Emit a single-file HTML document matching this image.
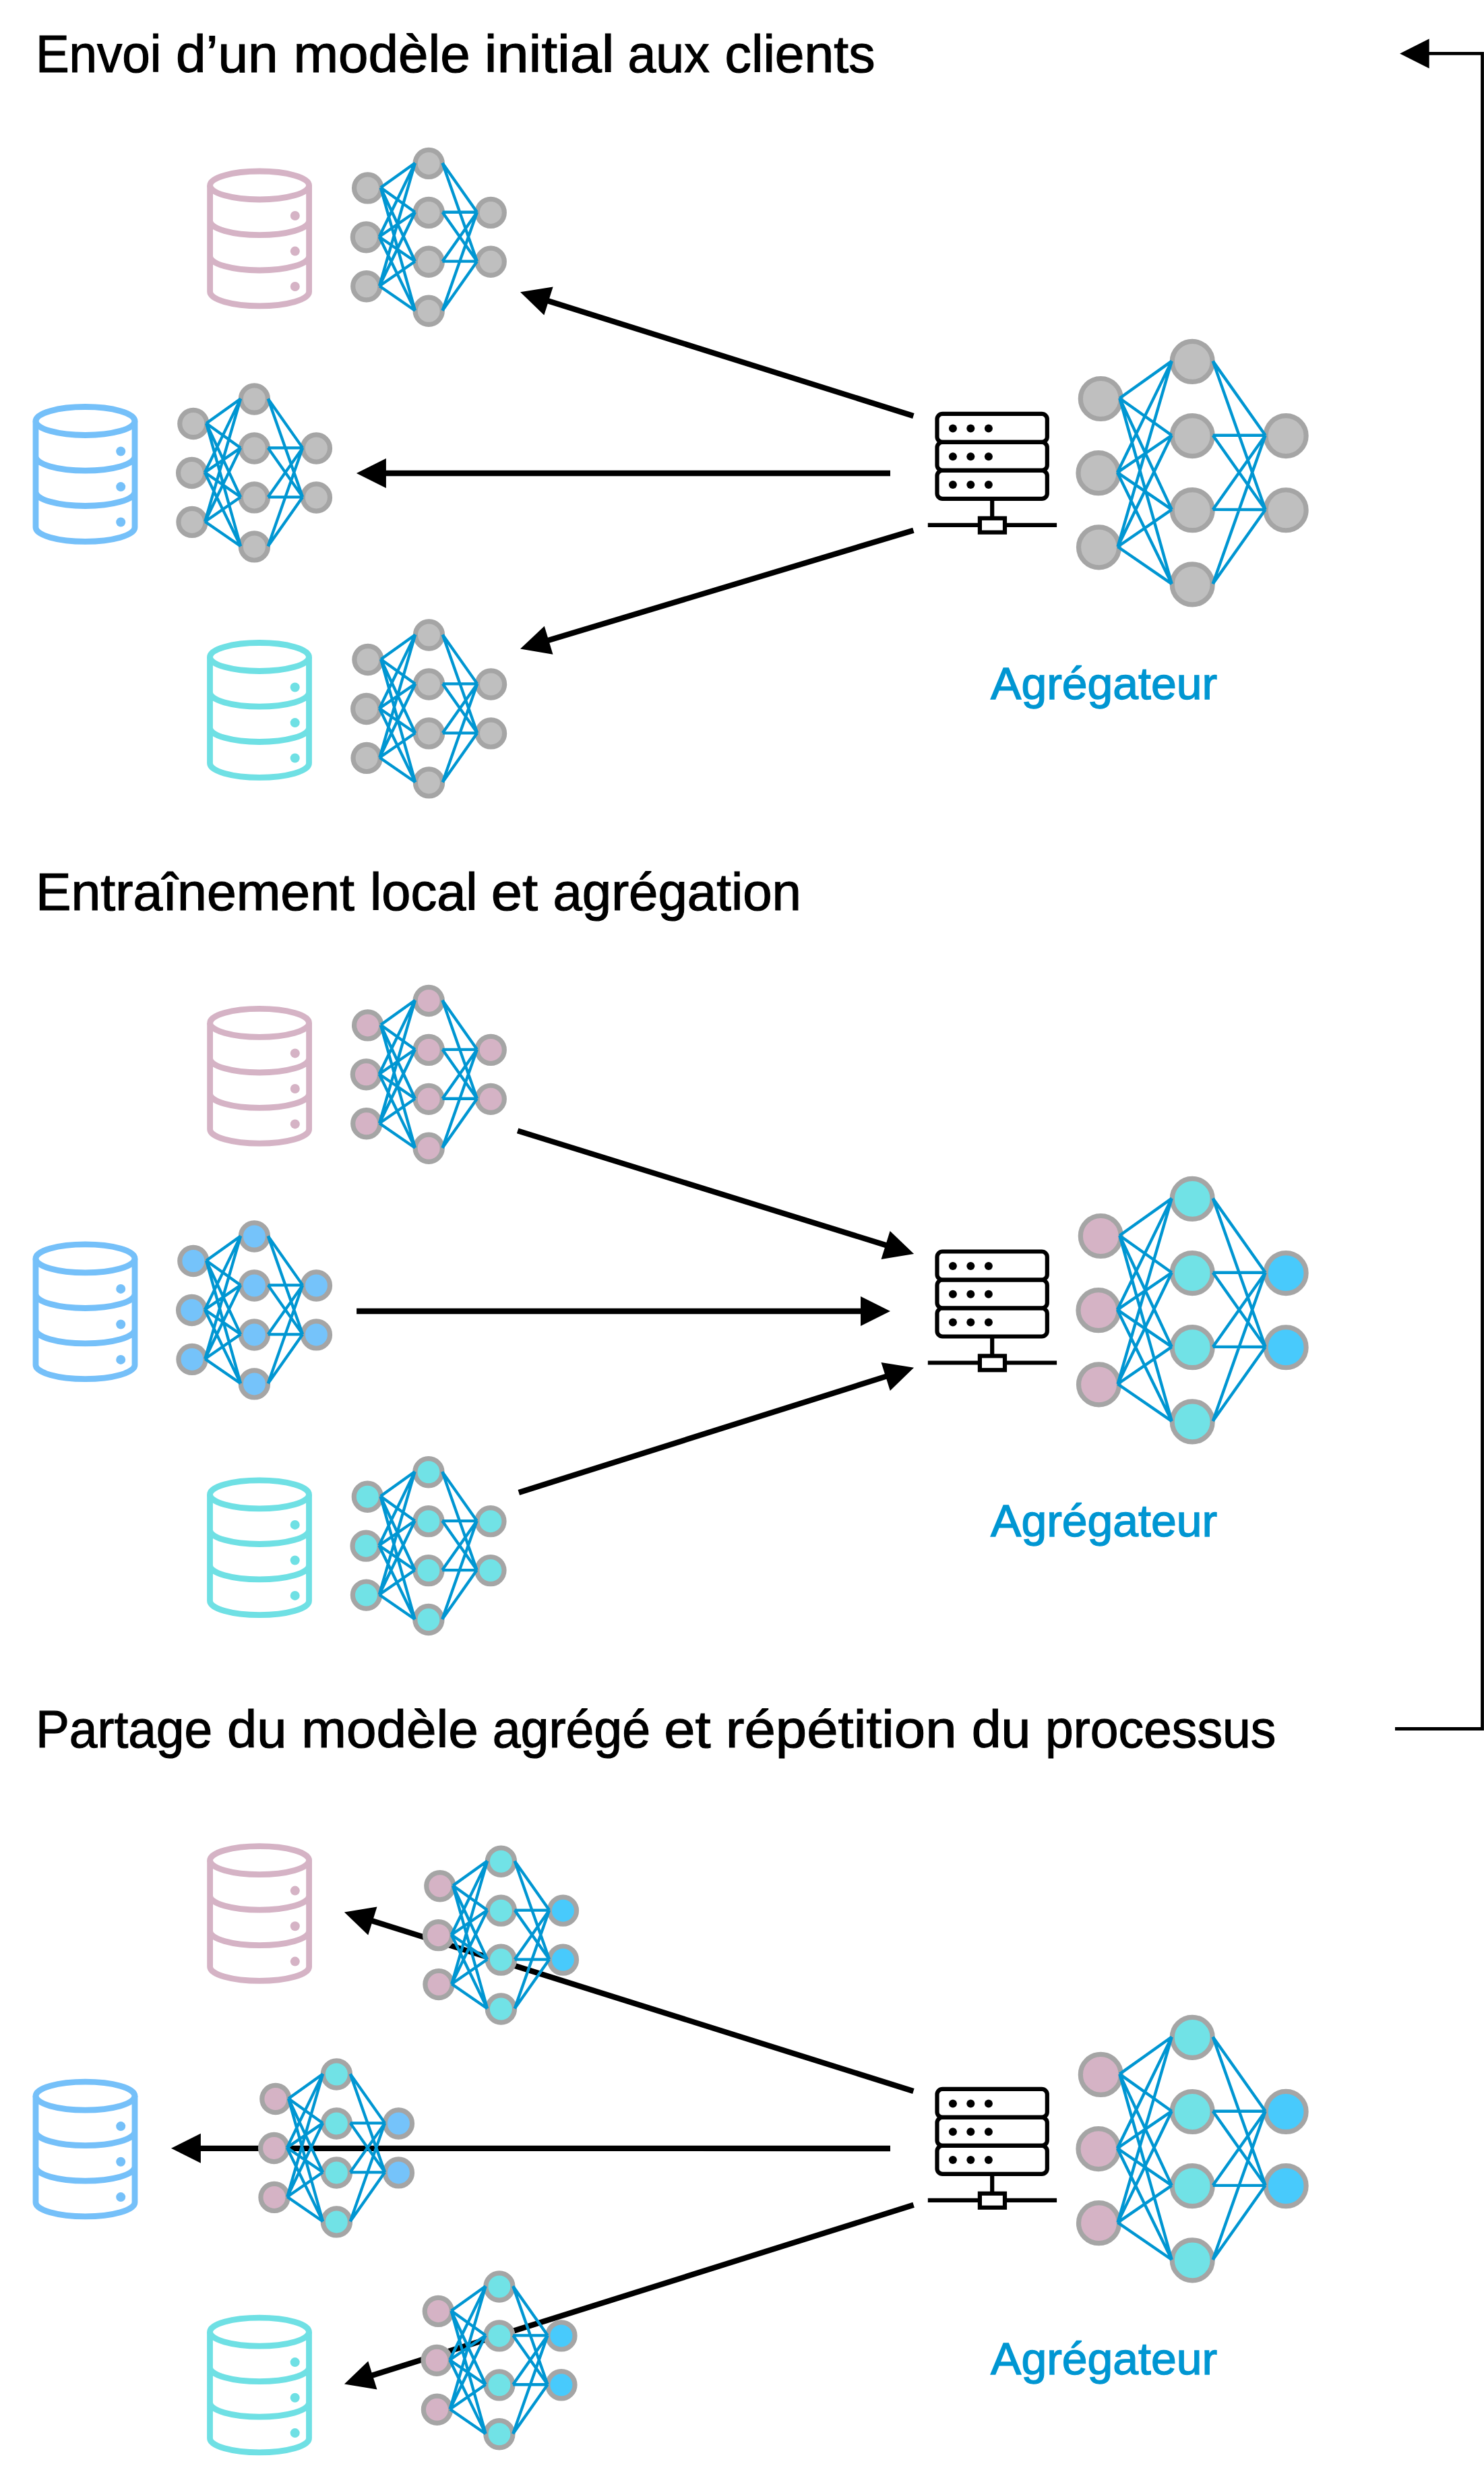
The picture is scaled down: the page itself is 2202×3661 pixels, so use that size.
<!DOCTYPE html><html><head><meta charset="utf-8"><style>html,body{margin:0;padding:0;background:#fff;}svg{display:block;}text{font-family:"Liberation Sans",sans-serif;}</style></head><body>
<svg width="2202" height="3661" viewBox="0 0 2202 3661">
<rect width="2202" height="3661" fill="#fff"/>
<text x="52.9" y="106.8" font-size="78.5" textLength="186.5" lengthAdjust="spacingAndGlyphs" fill="#000" stroke="#000" stroke-width="1.2">Envoi</text>
<text x="261.1" y="106.8" font-size="78.5" textLength="151.5" lengthAdjust="spacingAndGlyphs" fill="#000" stroke="#000" stroke-width="1.2">d’un</text>
<text x="435.4" y="106.8" font-size="78.5" textLength="262.3" lengthAdjust="spacingAndGlyphs" fill="#000" stroke="#000" stroke-width="1.2">modèle</text>
<text x="718.7" y="106.8" font-size="78.5" textLength="192.9" lengthAdjust="spacingAndGlyphs" fill="#000" stroke="#000" stroke-width="1.2">initial</text>
<text x="931.5" y="106.8" font-size="78.5" textLength="121.3" lengthAdjust="spacingAndGlyphs" fill="#000" stroke="#000" stroke-width="1.2">aux</text>
<text x="1075.6" y="106.8" font-size="78.5" textLength="222.9" lengthAdjust="spacingAndGlyphs" fill="#000" stroke="#000" stroke-width="1.2">clients</text>
<text x="52.9" y="1350" font-size="78.5" textLength="473" lengthAdjust="spacingAndGlyphs" fill="#000" stroke="#000" stroke-width="1.2">Entraînement</text>
<text x="549" y="1350" font-size="78.5" textLength="159.6" lengthAdjust="spacingAndGlyphs" fill="#000" stroke="#000" stroke-width="1.2">local</text>
<text x="728.7" y="1350" font-size="78.5" textLength="69.3" lengthAdjust="spacingAndGlyphs" fill="#000" stroke="#000" stroke-width="1.2">et</text>
<text x="820.4" y="1350" font-size="78.5" textLength="368.6" lengthAdjust="spacingAndGlyphs" fill="#000" stroke="#000" stroke-width="1.2">agrégation</text>
<text x="52.9" y="2592.2" font-size="78.5" textLength="262.2" lengthAdjust="spacingAndGlyphs" fill="#000" stroke="#000" stroke-width="1.2">Partage</text>
<text x="337" y="2592.2" font-size="78.5" textLength="88.4" lengthAdjust="spacingAndGlyphs" fill="#000" stroke="#000" stroke-width="1.2">du</text>
<text x="447.3" y="2592.2" font-size="78.5" textLength="262.5" lengthAdjust="spacingAndGlyphs" fill="#000" stroke="#000" stroke-width="1.2">modèle</text>
<text x="730.7" y="2592.2" font-size="78.5" textLength="234.3" lengthAdjust="spacingAndGlyphs" fill="#000" stroke="#000" stroke-width="1.2">agrégé</text>
<text x="985.3" y="2592.2" font-size="78.5" textLength="69.3" lengthAdjust="spacingAndGlyphs" fill="#000" stroke="#000" stroke-width="1.2">et</text>
<text x="1076.7" y="2592.2" font-size="78.5" textLength="342.9" lengthAdjust="spacingAndGlyphs" fill="#000" stroke="#000" stroke-width="1.2">répétition</text>
<text x="1441.7" y="2592.2" font-size="78.5" textLength="87.7" lengthAdjust="spacingAndGlyphs" fill="#000" stroke="#000" stroke-width="1.2">du</text>
<text x="1551.1" y="2592.2" font-size="78.5" textLength="342.1" lengthAdjust="spacingAndGlyphs" fill="#000" stroke="#000" stroke-width="1.2">processus</text>
<text x="1470.1" y="1036.6" font-size="67.5" textLength="336" lengthAdjust="spacingAndGlyphs" fill="#0096d2" stroke="#0096d2" stroke-width="1.4">Agrégateur</text>
<text x="1470.1" y="2279.1" font-size="67.5" textLength="336" lengthAdjust="spacingAndGlyphs" fill="#0096d2" stroke="#0096d2" stroke-width="1.4">Agrégateur</text>
<text x="1470.1" y="3521.6" font-size="67.5" textLength="336" lengthAdjust="spacingAndGlyphs" fill="#0096d2" stroke="#0096d2" stroke-width="1.4">Agrégateur</text>
<path d="M2070 2564.5H2199.5V79.4H2118" fill="none" stroke="#000" stroke-width="4.8"/>
<path d="M2077.1 79.4L2120.7 57.4L2120.7 101.4Z" fill="#000"/>
<g fill="none" stroke="#000" stroke-width="6.2"><rect x="1390.5" y="613.9" width="163.3" height="42" rx="8"/><rect x="1390.5" y="655.9" width="163.3" height="42" rx="8"/><rect x="1390.5" y="697.9" width="163.3" height="42" rx="8"/><path d="M1472.2 739.9V768.8"/><path d="M1376.8 778.9H1568.1"/><rect x="1453.9" y="768.8" width="37.1" height="20.9" fill="#fff"/></g><g fill="#000"><circle cx="1413.9" cy="635.4" r="6"/><circle cx="1440.3" cy="635.4" r="6"/><circle cx="1466.9" cy="635.4" r="6"/><circle cx="1413.9" cy="677.15" r="6"/><circle cx="1440.3" cy="677.15" r="6"/><circle cx="1466.9" cy="677.15" r="6"/><circle cx="1413.9" cy="718.9" r="6"/><circle cx="1440.3" cy="718.9" r="6"/><circle cx="1466.9" cy="718.9" r="6"/></g>
<g fill="none" stroke="#d5b3c5" stroke-width="8.8"><ellipse cx="385.1" cy="275" rx="73.5" ry="21"/><path d="M311.6 275V432.8M458.6 275V432.8M311.6 327.6A73.5 21 0 0 0 458.6 327.6M311.6 380A73.5 21 0 0 0 458.6 380M311.6 432.8A73.5 21 0 0 0 458.6 432.8"/></g><g fill="#d5b3c5"><circle cx="437.8" cy="320" r="7"/><circle cx="437.8" cy="372.6" r="7"/><circle cx="437.8" cy="425" r="7"/></g>
<g fill="none" stroke="#75c0f9" stroke-width="8.8"><ellipse cx="126.5" cy="624.5" rx="73.5" ry="21"/><path d="M53 624.5V782.3M200 624.5V782.3M53 677.1A73.5 21 0 0 0 200 677.1M53 729.5A73.5 21 0 0 0 200 729.5M53 782.3A73.5 21 0 0 0 200 782.3"/></g><g fill="#75c0f9"><circle cx="179.2" cy="669.5" r="7"/><circle cx="179.2" cy="722.1" r="7"/><circle cx="179.2" cy="774.5" r="7"/></g>
<g fill="none" stroke="#6fe0e4" stroke-width="8.8"><ellipse cx="385" cy="974.5" rx="73.5" ry="21"/><path d="M311.5 974.5V1132.3M458.5 974.5V1132.3M311.5 1027.1A73.5 21 0 0 0 458.5 1027.1M311.5 1079.5A73.5 21 0 0 0 458.5 1079.5M311.5 1132.3A73.5 21 0 0 0 458.5 1132.3"/></g><g fill="#6fe0e4"><circle cx="437.7" cy="1019.5" r="7"/><circle cx="437.7" cy="1072.1" r="7"/><circle cx="437.7" cy="1124.5" r="7"/></g>
<g fill="none" stroke="#000" stroke-width="6.2"><rect x="1390.5" y="1856.5" width="163.3" height="42" rx="8"/><rect x="1390.5" y="1898.5" width="163.3" height="42" rx="8"/><rect x="1390.5" y="1940.5" width="163.3" height="42" rx="8"/><path d="M1472.2 1982.5V2011.4"/><path d="M1376.8 2021.5H1568.1"/><rect x="1453.9" y="2011.4" width="37.1" height="20.9" fill="#fff"/></g><g fill="#000"><circle cx="1413.9" cy="1878" r="6"/><circle cx="1440.3" cy="1878" r="6"/><circle cx="1466.9" cy="1878" r="6"/><circle cx="1413.9" cy="1919.75" r="6"/><circle cx="1440.3" cy="1919.75" r="6"/><circle cx="1466.9" cy="1919.75" r="6"/><circle cx="1413.9" cy="1961.5" r="6"/><circle cx="1440.3" cy="1961.5" r="6"/><circle cx="1466.9" cy="1961.5" r="6"/></g>
<g fill="none" stroke="#d5b3c5" stroke-width="8.8"><ellipse cx="385.1" cy="1517.4" rx="73.5" ry="21"/><path d="M311.6 1517.4V1675.2M458.6 1517.4V1675.2M311.6 1570A73.5 21 0 0 0 458.6 1570M311.6 1622.4A73.5 21 0 0 0 458.6 1622.4M311.6 1675.2A73.5 21 0 0 0 458.6 1675.2"/></g><g fill="#d5b3c5"><circle cx="437.8" cy="1562.4" r="7"/><circle cx="437.8" cy="1615" r="7"/><circle cx="437.8" cy="1667.4" r="7"/></g>
<g fill="none" stroke="#75c0f9" stroke-width="8.8"><ellipse cx="126.5" cy="1866.9" rx="73.5" ry="21"/><path d="M53 1866.9V2024.7M200 1866.9V2024.7M53 1919.5A73.5 21 0 0 0 200 1919.5M53 1971.9A73.5 21 0 0 0 200 1971.9M53 2024.7A73.5 21 0 0 0 200 2024.7"/></g><g fill="#75c0f9"><circle cx="179.2" cy="1911.9" r="7"/><circle cx="179.2" cy="1964.5" r="7"/><circle cx="179.2" cy="2016.9" r="7"/></g>
<g fill="none" stroke="#6fe0e4" stroke-width="8.8"><ellipse cx="385" cy="2216.9" rx="73.5" ry="21"/><path d="M311.5 2216.9V2374.7M458.5 2216.9V2374.7M311.5 2269.5A73.5 21 0 0 0 458.5 2269.5M311.5 2321.9A73.5 21 0 0 0 458.5 2321.9M311.5 2374.7A73.5 21 0 0 0 458.5 2374.7"/></g><g fill="#6fe0e4"><circle cx="437.7" cy="2261.9" r="7"/><circle cx="437.7" cy="2314.5" r="7"/><circle cx="437.7" cy="2366.9" r="7"/></g>
<g fill="none" stroke="#000" stroke-width="6.2"><rect x="1390.5" y="3098.9" width="163.3" height="42" rx="8"/><rect x="1390.5" y="3140.9" width="163.3" height="42" rx="8"/><rect x="1390.5" y="3182.9" width="163.3" height="42" rx="8"/><path d="M1472.2 3224.9V3253.8"/><path d="M1376.8 3263.9H1568.1"/><rect x="1453.9" y="3253.8" width="37.1" height="20.9" fill="#fff"/></g><g fill="#000"><circle cx="1413.9" cy="3120.4" r="6"/><circle cx="1440.3" cy="3120.4" r="6"/><circle cx="1466.9" cy="3120.4" r="6"/><circle cx="1413.9" cy="3162.15" r="6"/><circle cx="1440.3" cy="3162.15" r="6"/><circle cx="1466.9" cy="3162.15" r="6"/><circle cx="1413.9" cy="3203.9" r="6"/><circle cx="1440.3" cy="3203.9" r="6"/><circle cx="1466.9" cy="3203.9" r="6"/></g>
<g fill="none" stroke="#d5b3c5" stroke-width="8.8"><ellipse cx="385.1" cy="2759.6" rx="73.5" ry="21"/><path d="M311.6 2759.6V2917.4M458.6 2759.6V2917.4M311.6 2812.2A73.5 21 0 0 0 458.6 2812.2M311.6 2864.6A73.5 21 0 0 0 458.6 2864.6M311.6 2917.4A73.5 21 0 0 0 458.6 2917.4"/></g><g fill="#d5b3c5"><circle cx="437.8" cy="2804.6" r="7"/><circle cx="437.8" cy="2857.2" r="7"/><circle cx="437.8" cy="2909.6" r="7"/></g>
<g fill="none" stroke="#75c0f9" stroke-width="8.8"><ellipse cx="126.5" cy="3109.1" rx="73.5" ry="21"/><path d="M53 3109.1V3266.9M200 3109.1V3266.9M53 3161.7A73.5 21 0 0 0 200 3161.7M53 3214.1A73.5 21 0 0 0 200 3214.1M53 3266.9A73.5 21 0 0 0 200 3266.9"/></g><g fill="#75c0f9"><circle cx="179.2" cy="3154.1" r="7"/><circle cx="179.2" cy="3206.7" r="7"/><circle cx="179.2" cy="3259.1" r="7"/></g>
<g fill="none" stroke="#6fe0e4" stroke-width="8.8"><ellipse cx="385" cy="3459.1" rx="73.5" ry="21"/><path d="M311.5 3459.1V3616.9M458.5 3459.1V3616.9M311.5 3511.7A73.5 21 0 0 0 458.5 3511.7M311.5 3564.1A73.5 21 0 0 0 458.5 3564.1M311.5 3616.9A73.5 21 0 0 0 458.5 3616.9"/></g><g fill="#6fe0e4"><circle cx="437.7" cy="3504.1" r="7"/><circle cx="437.7" cy="3556.7" r="7"/><circle cx="437.7" cy="3609.1" r="7"/></g>
<circle cx="1633.31" cy="591.5" r="30" fill="#bfbfbf" stroke="#a5a5a5" stroke-width="7.2"/><circle cx="1629.95" cy="701.65" r="30" fill="#bfbfbf" stroke="#a5a5a5" stroke-width="7.2"/><circle cx="1630.5" cy="811.8" r="30" fill="#bfbfbf" stroke="#a5a5a5" stroke-width="7.2"/><circle cx="1769.2" cy="536.42" r="30" fill="#bfbfbf" stroke="#a5a5a5" stroke-width="7.2"/><circle cx="1769.2" cy="646.57" r="30" fill="#bfbfbf" stroke="#a5a5a5" stroke-width="7.2"/><circle cx="1769.2" cy="756.72" r="30" fill="#bfbfbf" stroke="#a5a5a5" stroke-width="7.2"/><circle cx="1769.2" cy="866.88" r="30" fill="#bfbfbf" stroke="#a5a5a5" stroke-width="7.2"/><circle cx="1908.1" cy="646.58" r="30" fill="#bfbfbf" stroke="#a5a5a5" stroke-width="7.2"/><circle cx="1908.1" cy="756.73" r="30" fill="#bfbfbf" stroke="#a5a5a5" stroke-width="7.2"/><path d="M1661.31 590.7L1738.7 535.62M1661.31 590.7L1738.7 645.77M1661.31 590.7L1738.7 755.92M1661.31 590.7L1738.7 866.08M1657.95 700.85L1738.7 535.62M1657.95 700.85L1738.7 645.77M1657.95 700.85L1738.7 755.92M1657.95 700.85L1738.7 866.08M1658.5 811L1738.7 535.62M1658.5 811L1738.7 645.77M1658.5 811L1738.7 755.92M1658.5 811L1738.7 866.08M1799.7 535.62L1877.6 645.78M1799.7 535.62L1877.6 755.93M1799.7 645.77L1877.6 645.78M1799.7 645.77L1877.6 755.93M1799.7 755.92L1877.6 645.78M1799.7 755.92L1877.6 755.93M1799.7 866.08L1877.6 645.78M1799.7 866.08L1877.6 755.93" fill="none" stroke="#0096d2" stroke-width="4.4" stroke-linecap="butt"/>
<circle cx="545.66" cy="278.9" r="20.1" fill="#bfbfbf" stroke="#a5a5a5" stroke-width="7.2"/><circle cx="543.44" cy="351.85" r="20.1" fill="#bfbfbf" stroke="#a5a5a5" stroke-width="7.2"/><circle cx="543.8" cy="424.8" r="20.1" fill="#bfbfbf" stroke="#a5a5a5" stroke-width="7.2"/><circle cx="636.2" cy="242.42" r="20.1" fill="#bfbfbf" stroke="#a5a5a5" stroke-width="7.2"/><circle cx="636.2" cy="315.38" r="20.1" fill="#bfbfbf" stroke="#a5a5a5" stroke-width="7.2"/><circle cx="636.2" cy="388.32" r="20.1" fill="#bfbfbf" stroke="#a5a5a5" stroke-width="7.2"/><circle cx="636.2" cy="461.27" r="20.1" fill="#bfbfbf" stroke="#a5a5a5" stroke-width="7.2"/><circle cx="728.2" cy="315.38" r="20.1" fill="#bfbfbf" stroke="#a5a5a5" stroke-width="7.2"/><circle cx="728.2" cy="388.32" r="20.1" fill="#bfbfbf" stroke="#a5a5a5" stroke-width="7.2"/><path d="M564.86 278.3L615.9 241.82M564.86 278.3L615.9 314.77M564.86 278.3L615.9 387.72M564.86 278.3L615.9 460.67M562.64 351.25L615.9 241.82M562.64 351.25L615.9 314.77M562.64 351.25L615.9 387.72M562.64 351.25L615.9 460.67M563 424.2L615.9 241.82M563 424.2L615.9 314.77M563 424.2L615.9 387.72M563 424.2L615.9 460.67M656.5 241.82L707.9 314.77M656.5 241.82L707.9 387.72M656.5 314.77L707.9 314.77M656.5 314.77L707.9 387.72M656.5 387.72L707.9 314.77M656.5 387.72L707.9 387.72M656.5 460.67L707.9 314.77M656.5 460.67L707.9 387.72" fill="none" stroke="#0096d2" stroke-width="4.3" stroke-linecap="butt"/>
<circle cx="286.86" cy="628.5" r="20.1" fill="#bfbfbf" stroke="#a5a5a5" stroke-width="7.2"/><circle cx="284.64" cy="701.45" r="20.1" fill="#bfbfbf" stroke="#a5a5a5" stroke-width="7.2"/><circle cx="285" cy="774.4" r="20.1" fill="#bfbfbf" stroke="#a5a5a5" stroke-width="7.2"/><circle cx="377.4" cy="592.02" r="20.1" fill="#bfbfbf" stroke="#a5a5a5" stroke-width="7.2"/><circle cx="377.4" cy="664.98" r="20.1" fill="#bfbfbf" stroke="#a5a5a5" stroke-width="7.2"/><circle cx="377.4" cy="737.92" r="20.1" fill="#bfbfbf" stroke="#a5a5a5" stroke-width="7.2"/><circle cx="377.4" cy="810.88" r="20.1" fill="#bfbfbf" stroke="#a5a5a5" stroke-width="7.2"/><circle cx="469.4" cy="664.98" r="20.1" fill="#bfbfbf" stroke="#a5a5a5" stroke-width="7.2"/><circle cx="469.4" cy="737.93" r="20.1" fill="#bfbfbf" stroke="#a5a5a5" stroke-width="7.2"/><path d="M306.06 627.9L357.1 591.42M306.06 627.9L357.1 664.38M306.06 627.9L357.1 737.32M306.06 627.9L357.1 810.27M303.84 700.85L357.1 591.42M303.84 700.85L357.1 664.38M303.84 700.85L357.1 737.32M303.84 700.85L357.1 810.27M304.2 773.8L357.1 591.42M304.2 773.8L357.1 664.38M304.2 773.8L357.1 737.32M304.2 773.8L357.1 810.27M397.7 591.42L449.1 664.38M397.7 591.42L449.1 737.33M397.7 664.38L449.1 664.38M397.7 664.38L449.1 737.33M397.7 737.32L449.1 664.38M397.7 737.32L449.1 737.33M397.7 810.27L449.1 664.38M397.7 810.27L449.1 737.33" fill="none" stroke="#0096d2" stroke-width="4.3" stroke-linecap="butt"/>
<circle cx="545.96" cy="978.5" r="20.1" fill="#bfbfbf" stroke="#a5a5a5" stroke-width="7.2"/><circle cx="543.74" cy="1051.45" r="20.1" fill="#bfbfbf" stroke="#a5a5a5" stroke-width="7.2"/><circle cx="544.1" cy="1124.4" r="20.1" fill="#bfbfbf" stroke="#a5a5a5" stroke-width="7.2"/><circle cx="636.5" cy="942.02" r="20.1" fill="#bfbfbf" stroke="#a5a5a5" stroke-width="7.2"/><circle cx="636.5" cy="1014.98" r="20.1" fill="#bfbfbf" stroke="#a5a5a5" stroke-width="7.2"/><circle cx="636.5" cy="1087.92" r="20.1" fill="#bfbfbf" stroke="#a5a5a5" stroke-width="7.2"/><circle cx="636.5" cy="1160.88" r="20.1" fill="#bfbfbf" stroke="#a5a5a5" stroke-width="7.2"/><circle cx="728.5" cy="1014.98" r="20.1" fill="#bfbfbf" stroke="#a5a5a5" stroke-width="7.2"/><circle cx="728.5" cy="1087.92" r="20.1" fill="#bfbfbf" stroke="#a5a5a5" stroke-width="7.2"/><path d="M565.16 977.9L616.2 941.42M565.16 977.9L616.2 1014.38M565.16 977.9L616.2 1087.33M565.16 977.9L616.2 1160.28M562.94 1050.85L616.2 941.42M562.94 1050.85L616.2 1014.38M562.94 1050.85L616.2 1087.33M562.94 1050.85L616.2 1160.28M563.3 1123.8L616.2 941.42M563.3 1123.8L616.2 1014.38M563.3 1123.8L616.2 1087.33M563.3 1123.8L616.2 1160.28M656.8 941.42L708.2 1014.38M656.8 941.42L708.2 1087.33M656.8 1014.38L708.2 1014.38M656.8 1014.38L708.2 1087.33M656.8 1087.33L708.2 1014.38M656.8 1087.33L708.2 1087.33M656.8 1160.28L708.2 1014.38M656.8 1160.28L708.2 1087.33" fill="none" stroke="#0096d2" stroke-width="4.3" stroke-linecap="butt"/>
<path d="M1355.4 617L813.01 446.21" stroke="#000" stroke-width="8.3" fill="none"/>
<path d="M772 433.3L820.58 425.53L807.36 467.5Z" fill="#000"/>
<path d="M1321 702L571.9 702" stroke="#000" stroke-width="8.3" fill="none"/>
<path d="M528.9 702L572.9 680L572.9 724Z" fill="#000"/>
<path d="M1355.4 786.7L813.17 950.09" stroke="#000" stroke-width="8.3" fill="none"/>
<path d="M772 962.5L807.78 928.74L820.48 970.87Z" fill="#000"/>
<circle cx="1633.31" cy="1833.5" r="30" fill="#d5b3c5" stroke="#a5a5a5" stroke-width="7.2"/><circle cx="1629.95" cy="1943.65" r="30" fill="#d5b3c5" stroke="#a5a5a5" stroke-width="7.2"/><circle cx="1630.5" cy="2053.8" r="30" fill="#d5b3c5" stroke="#a5a5a5" stroke-width="7.2"/><circle cx="1769.2" cy="1778.42" r="30" fill="#71e2e6" stroke="#a5a5a5" stroke-width="7.2"/><circle cx="1769.2" cy="1888.58" r="30" fill="#71e2e6" stroke="#a5a5a5" stroke-width="7.2"/><circle cx="1769.2" cy="1998.72" r="30" fill="#71e2e6" stroke="#a5a5a5" stroke-width="7.2"/><circle cx="1769.2" cy="2108.88" r="30" fill="#71e2e6" stroke="#a5a5a5" stroke-width="7.2"/><circle cx="1908.1" cy="1888.58" r="30" fill="#48cafc" stroke="#a5a5a5" stroke-width="7.2"/><circle cx="1908.1" cy="1998.73" r="30" fill="#48cafc" stroke="#a5a5a5" stroke-width="7.2"/><path d="M1661.31 1832.7L1738.7 1777.62M1661.31 1832.7L1738.7 1887.78M1661.31 1832.7L1738.7 1997.92M1661.31 1832.7L1738.7 2108.07M1657.95 1942.85L1738.7 1777.62M1657.95 1942.85L1738.7 1887.78M1657.95 1942.85L1738.7 1997.92M1657.95 1942.85L1738.7 2108.07M1658.5 2053L1738.7 1777.62M1658.5 2053L1738.7 1887.78M1658.5 2053L1738.7 1997.92M1658.5 2053L1738.7 2108.07M1799.7 1777.62L1877.6 1887.78M1799.7 1777.62L1877.6 1997.93M1799.7 1887.78L1877.6 1887.78M1799.7 1887.78L1877.6 1997.93M1799.7 1997.92L1877.6 1887.78M1799.7 1997.92L1877.6 1997.93M1799.7 2108.07L1877.6 1887.78M1799.7 2108.07L1877.6 1997.93" fill="none" stroke="#0096d2" stroke-width="4.4" stroke-linecap="butt"/>
<circle cx="545.66" cy="1520.9" r="20.1" fill="#d5b3c5" stroke="#a5a5a5" stroke-width="7.2"/><circle cx="543.44" cy="1593.85" r="20.1" fill="#d5b3c5" stroke="#a5a5a5" stroke-width="7.2"/><circle cx="543.8" cy="1666.8" r="20.1" fill="#d5b3c5" stroke="#a5a5a5" stroke-width="7.2"/><circle cx="636.2" cy="1484.43" r="20.1" fill="#d5b3c5" stroke="#a5a5a5" stroke-width="7.2"/><circle cx="636.2" cy="1557.38" r="20.1" fill="#d5b3c5" stroke="#a5a5a5" stroke-width="7.2"/><circle cx="636.2" cy="1630.33" r="20.1" fill="#d5b3c5" stroke="#a5a5a5" stroke-width="7.2"/><circle cx="636.2" cy="1703.28" r="20.1" fill="#d5b3c5" stroke="#a5a5a5" stroke-width="7.2"/><circle cx="728.2" cy="1557.38" r="20.1" fill="#d5b3c5" stroke="#a5a5a5" stroke-width="7.2"/><circle cx="728.2" cy="1630.33" r="20.1" fill="#d5b3c5" stroke="#a5a5a5" stroke-width="7.2"/><path d="M564.86 1520.3L615.9 1483.83M564.86 1520.3L615.9 1556.78M564.86 1520.3L615.9 1629.73M564.86 1520.3L615.9 1702.68M562.64 1593.25L615.9 1483.83M562.64 1593.25L615.9 1556.78M562.64 1593.25L615.9 1629.73M562.64 1593.25L615.9 1702.68M563 1666.2L615.9 1483.83M563 1666.2L615.9 1556.78M563 1666.2L615.9 1629.73M563 1666.2L615.9 1702.68M656.5 1483.83L707.9 1556.78M656.5 1483.83L707.9 1629.73M656.5 1556.78L707.9 1556.78M656.5 1556.78L707.9 1629.73M656.5 1629.73L707.9 1556.78M656.5 1629.73L707.9 1629.73M656.5 1702.68L707.9 1556.78M656.5 1702.68L707.9 1629.73" fill="none" stroke="#0096d2" stroke-width="4.3" stroke-linecap="butt"/>
<circle cx="286.86" cy="1870.5" r="20.1" fill="#75c3fa" stroke="#a5a5a5" stroke-width="7.2"/><circle cx="284.64" cy="1943.45" r="20.1" fill="#75c3fa" stroke="#a5a5a5" stroke-width="7.2"/><circle cx="285" cy="2016.4" r="20.1" fill="#75c3fa" stroke="#a5a5a5" stroke-width="7.2"/><circle cx="377.4" cy="1834.03" r="20.1" fill="#75c3fa" stroke="#a5a5a5" stroke-width="7.2"/><circle cx="377.4" cy="1906.98" r="20.1" fill="#75c3fa" stroke="#a5a5a5" stroke-width="7.2"/><circle cx="377.4" cy="1979.93" r="20.1" fill="#75c3fa" stroke="#a5a5a5" stroke-width="7.2"/><circle cx="377.4" cy="2052.88" r="20.1" fill="#75c3fa" stroke="#a5a5a5" stroke-width="7.2"/><circle cx="469.4" cy="1906.97" r="20.1" fill="#75c3fa" stroke="#a5a5a5" stroke-width="7.2"/><circle cx="469.4" cy="1979.92" r="20.1" fill="#75c3fa" stroke="#a5a5a5" stroke-width="7.2"/><path d="M306.06 1869.9L357.1 1833.43M306.06 1869.9L357.1 1906.38M306.06 1869.9L357.1 1979.33M306.06 1869.9L357.1 2052.28M303.84 1942.85L357.1 1833.43M303.84 1942.85L357.1 1906.38M303.84 1942.85L357.1 1979.33M303.84 1942.85L357.1 2052.28M304.2 2015.8L357.1 1833.43M304.2 2015.8L357.1 1906.38M304.2 2015.8L357.1 1979.33M304.2 2015.8L357.1 2052.28M397.7 1833.43L449.1 1906.38M397.7 1833.43L449.1 1979.33M397.7 1906.38L449.1 1906.38M397.7 1906.38L449.1 1979.33M397.7 1979.33L449.1 1906.38M397.7 1979.33L449.1 1979.33M397.7 2052.28L449.1 1906.38M397.7 2052.28L449.1 1979.33" fill="none" stroke="#0096d2" stroke-width="4.3" stroke-linecap="butt"/>
<circle cx="545.36" cy="2220.2" r="20.1" fill="#71e2e6" stroke="#a5a5a5" stroke-width="7.2"/><circle cx="543.14" cy="2293.15" r="20.1" fill="#71e2e6" stroke="#a5a5a5" stroke-width="7.2"/><circle cx="543.5" cy="2366.1" r="20.1" fill="#71e2e6" stroke="#a5a5a5" stroke-width="7.2"/><circle cx="635.9" cy="2183.72" r="20.1" fill="#71e2e6" stroke="#a5a5a5" stroke-width="7.2"/><circle cx="635.9" cy="2256.67" r="20.1" fill="#71e2e6" stroke="#a5a5a5" stroke-width="7.2"/><circle cx="635.9" cy="2329.62" r="20.1" fill="#71e2e6" stroke="#a5a5a5" stroke-width="7.2"/><circle cx="635.9" cy="2402.57" r="20.1" fill="#71e2e6" stroke="#a5a5a5" stroke-width="7.2"/><circle cx="727.9" cy="2256.67" r="20.1" fill="#71e2e6" stroke="#a5a5a5" stroke-width="7.2"/><circle cx="727.9" cy="2329.62" r="20.1" fill="#71e2e6" stroke="#a5a5a5" stroke-width="7.2"/><path d="M564.56 2219.6L615.6 2183.12M564.56 2219.6L615.6 2256.07M564.56 2219.6L615.6 2329.03M564.56 2219.6L615.6 2401.97M562.34 2292.55L615.6 2183.12M562.34 2292.55L615.6 2256.07M562.34 2292.55L615.6 2329.03M562.34 2292.55L615.6 2401.97M562.7 2365.5L615.6 2183.12M562.7 2365.5L615.6 2256.07M562.7 2365.5L615.6 2329.03M562.7 2365.5L615.6 2401.97M656.2 2183.12L707.6 2256.07M656.2 2183.12L707.6 2329.02M656.2 2256.07L707.6 2256.07M656.2 2256.07L707.6 2329.02M656.2 2329.03L707.6 2256.07M656.2 2329.03L707.6 2329.02M656.2 2401.97L707.6 2256.07M656.2 2401.97L707.6 2329.02" fill="none" stroke="#0096d2" stroke-width="4.3" stroke-linecap="butt"/>
<path d="M768.1 1677.4L1315.03 1847.25" stroke="#000" stroke-width="8.3" fill="none"/>
<path d="M1356.1 1860L1307.55 1867.96L1320.6 1825.94Z" fill="#000"/>
<path d="M529.1 1945L1278 1945" stroke="#000" stroke-width="8.3" fill="none"/>
<path d="M1321 1945L1277 1967L1277 1923Z" fill="#000"/>
<path d="M769.8 2214L1315.1 2041.66" stroke="#000" stroke-width="8.3" fill="none"/>
<path d="M1356.1 2028.7L1320.78 2062.94L1307.52 2020.98Z" fill="#000"/>
<circle cx="1633.31" cy="3077.4" r="30" fill="#d5b3c5" stroke="#a5a5a5" stroke-width="7.2"/><circle cx="1629.95" cy="3187.55" r="30" fill="#d5b3c5" stroke="#a5a5a5" stroke-width="7.2"/><circle cx="1630.5" cy="3297.7" r="30" fill="#d5b3c5" stroke="#a5a5a5" stroke-width="7.2"/><circle cx="1769.2" cy="3022.33" r="30" fill="#71e2e6" stroke="#a5a5a5" stroke-width="7.2"/><circle cx="1769.2" cy="3132.48" r="30" fill="#71e2e6" stroke="#a5a5a5" stroke-width="7.2"/><circle cx="1769.2" cy="3242.63" r="30" fill="#71e2e6" stroke="#a5a5a5" stroke-width="7.2"/><circle cx="1769.2" cy="3352.78" r="30" fill="#71e2e6" stroke="#a5a5a5" stroke-width="7.2"/><circle cx="1908.1" cy="3132.47" r="30" fill="#48cafc" stroke="#a5a5a5" stroke-width="7.2"/><circle cx="1908.1" cy="3242.62" r="30" fill="#48cafc" stroke="#a5a5a5" stroke-width="7.2"/><path d="M1661.31 3076.6L1738.7 3021.53M1661.31 3076.6L1738.7 3131.68M1661.31 3076.6L1738.7 3241.83M1661.31 3076.6L1738.7 3351.98M1657.95 3186.75L1738.7 3021.53M1657.95 3186.75L1738.7 3131.68M1657.95 3186.75L1738.7 3241.83M1657.95 3186.75L1738.7 3351.98M1658.5 3296.9L1738.7 3021.53M1658.5 3296.9L1738.7 3131.68M1658.5 3296.9L1738.7 3241.83M1658.5 3296.9L1738.7 3351.98M1799.7 3021.53L1877.6 3131.67M1799.7 3021.53L1877.6 3241.82M1799.7 3131.68L1877.6 3131.67M1799.7 3131.68L1877.6 3241.82M1799.7 3241.83L1877.6 3131.67M1799.7 3241.83L1877.6 3241.82M1799.7 3351.98L1877.6 3131.67M1799.7 3351.98L1877.6 3241.82" fill="none" stroke="#0096d2" stroke-width="4.4" stroke-linecap="butt"/>
<path d="M1355.4 3102L551.92 2849.3" stroke="#000" stroke-width="8.3" fill="none"/>
<path d="M510.9 2836.4L559.47 2828.61L546.27 2870.59Z" fill="#000"/>
<path d="M1321 3187L296.9 3186.81" stroke="#000" stroke-width="8.3" fill="none"/>
<path d="M253.9 3186.8L297.9 3164.81L297.9 3208.81Z" fill="#000"/>
<path d="M1355.6 3270.8L551.92 3523.69" stroke="#000" stroke-width="8.3" fill="none"/>
<path d="M510.9 3536.6L546.27 3502.41L559.47 3544.38Z" fill="#000"/>
<circle cx="652.86" cy="2797.7" r="20.1" fill="#d5b3c5" stroke="#a5a5a5" stroke-width="7.2"/><circle cx="650.64" cy="2870.65" r="20.1" fill="#d5b3c5" stroke="#a5a5a5" stroke-width="7.2"/><circle cx="651" cy="2943.6" r="20.1" fill="#d5b3c5" stroke="#a5a5a5" stroke-width="7.2"/><circle cx="743.4" cy="2761.22" r="20.1" fill="#71e2e6" stroke="#a5a5a5" stroke-width="7.2"/><circle cx="743.4" cy="2834.17" r="20.1" fill="#71e2e6" stroke="#a5a5a5" stroke-width="7.2"/><circle cx="743.4" cy="2907.12" r="20.1" fill="#71e2e6" stroke="#a5a5a5" stroke-width="7.2"/><circle cx="743.4" cy="2980.07" r="20.1" fill="#71e2e6" stroke="#a5a5a5" stroke-width="7.2"/><circle cx="835.4" cy="2834.17" r="20.1" fill="#48cafc" stroke="#a5a5a5" stroke-width="7.2"/><circle cx="835.4" cy="2907.12" r="20.1" fill="#48cafc" stroke="#a5a5a5" stroke-width="7.2"/><path d="M672.06 2797.1L723.1 2760.62M672.06 2797.1L723.1 2833.57M672.06 2797.1L723.1 2906.53M672.06 2797.1L723.1 2979.47M669.84 2870.05L723.1 2760.62M669.84 2870.05L723.1 2833.57M669.84 2870.05L723.1 2906.53M669.84 2870.05L723.1 2979.47M670.2 2943L723.1 2760.62M670.2 2943L723.1 2833.57M670.2 2943L723.1 2906.53M670.2 2943L723.1 2979.47M763.7 2760.62L815.1 2833.57M763.7 2760.62L815.1 2906.52M763.7 2833.57L815.1 2833.57M763.7 2833.57L815.1 2906.52M763.7 2906.53L815.1 2833.57M763.7 2906.53L815.1 2906.52M763.7 2979.47L815.1 2833.57M763.7 2979.47L815.1 2906.52" fill="none" stroke="#0096d2" stroke-width="4.3" stroke-linecap="butt"/>
<circle cx="408.86" cy="3113.5" r="20.1" fill="#d5b3c5" stroke="#a5a5a5" stroke-width="7.2"/><circle cx="406.64" cy="3186.45" r="20.1" fill="#d5b3c5" stroke="#a5a5a5" stroke-width="7.2"/><circle cx="407" cy="3259.4" r="20.1" fill="#d5b3c5" stroke="#a5a5a5" stroke-width="7.2"/><circle cx="499.4" cy="3077.03" r="20.1" fill="#71e2e6" stroke="#a5a5a5" stroke-width="7.2"/><circle cx="499.4" cy="3149.97" r="20.1" fill="#71e2e6" stroke="#a5a5a5" stroke-width="7.2"/><circle cx="499.4" cy="3222.93" r="20.1" fill="#71e2e6" stroke="#a5a5a5" stroke-width="7.2"/><circle cx="499.4" cy="3295.88" r="20.1" fill="#71e2e6" stroke="#a5a5a5" stroke-width="7.2"/><circle cx="591.4" cy="3149.97" r="20.1" fill="#75c3fa" stroke="#a5a5a5" stroke-width="7.2"/><circle cx="591.4" cy="3222.92" r="20.1" fill="#75c3fa" stroke="#a5a5a5" stroke-width="7.2"/><path d="M428.06 3112.9L479.1 3076.43M428.06 3112.9L479.1 3149.38M428.06 3112.9L479.1 3222.33M428.06 3112.9L479.1 3295.28M425.84 3185.85L479.1 3076.43M425.84 3185.85L479.1 3149.38M425.84 3185.85L479.1 3222.33M425.84 3185.85L479.1 3295.28M426.2 3258.8L479.1 3076.43M426.2 3258.8L479.1 3149.38M426.2 3258.8L479.1 3222.33M426.2 3258.8L479.1 3295.28M519.7 3076.43L571.1 3149.38M519.7 3076.43L571.1 3222.32M519.7 3149.38L571.1 3149.38M519.7 3149.38L571.1 3222.32M519.7 3222.33L571.1 3149.38M519.7 3222.33L571.1 3222.32M519.7 3295.28L571.1 3149.38M519.7 3295.28L571.1 3222.32" fill="none" stroke="#0096d2" stroke-width="4.3" stroke-linecap="butt"/>
<circle cx="650.36" cy="3428.4" r="20.1" fill="#d5b3c5" stroke="#a5a5a5" stroke-width="7.2"/><circle cx="648.14" cy="3501.35" r="20.1" fill="#d5b3c5" stroke="#a5a5a5" stroke-width="7.2"/><circle cx="648.5" cy="3574.3" r="20.1" fill="#d5b3c5" stroke="#a5a5a5" stroke-width="7.2"/><circle cx="740.9" cy="3391.93" r="20.1" fill="#71e2e6" stroke="#a5a5a5" stroke-width="7.2"/><circle cx="740.9" cy="3464.88" r="20.1" fill="#71e2e6" stroke="#a5a5a5" stroke-width="7.2"/><circle cx="740.9" cy="3537.83" r="20.1" fill="#71e2e6" stroke="#a5a5a5" stroke-width="7.2"/><circle cx="740.9" cy="3610.78" r="20.1" fill="#71e2e6" stroke="#a5a5a5" stroke-width="7.2"/><circle cx="832.9" cy="3464.88" r="20.1" fill="#48cafc" stroke="#a5a5a5" stroke-width="7.2"/><circle cx="832.9" cy="3537.82" r="20.1" fill="#48cafc" stroke="#a5a5a5" stroke-width="7.2"/><path d="M669.56 3427.8L720.6 3391.33M669.56 3427.8L720.6 3464.28M669.56 3427.8L720.6 3537.23M669.56 3427.8L720.6 3610.18M667.34 3500.75L720.6 3391.33M667.34 3500.75L720.6 3464.28M667.34 3500.75L720.6 3537.23M667.34 3500.75L720.6 3610.18M667.7 3573.7L720.6 3391.33M667.7 3573.7L720.6 3464.28M667.7 3573.7L720.6 3537.23M667.7 3573.7L720.6 3610.18M761.2 3391.33L812.6 3464.28M761.2 3391.33L812.6 3537.22M761.2 3464.28L812.6 3464.28M761.2 3464.28L812.6 3537.22M761.2 3537.23L812.6 3464.28M761.2 3537.23L812.6 3537.22M761.2 3610.18L812.6 3464.28M761.2 3610.18L812.6 3537.22" fill="none" stroke="#0096d2" stroke-width="4.3" stroke-linecap="butt"/>
</svg></body></html>
